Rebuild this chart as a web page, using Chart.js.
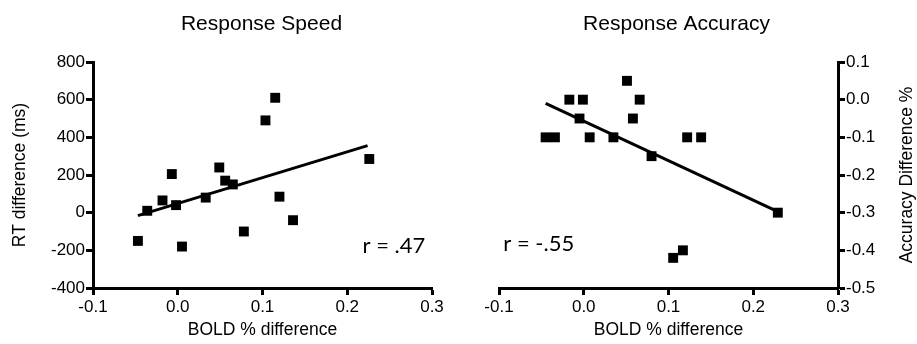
<!DOCTYPE html>
<html>
<head>
<meta charset="utf-8">
<script src="https://cdn.jsdelivr.net/npm/chart.js@4"></script>
<style>
  body { margin: 0; background: #fff; }
  .panel { position: absolute; top: 0; height: 344px; }
</style>
</head>
<body>
<div class="panel" style="left:0;width:460px"><canvas id="speedChart"></canvas></div>
<div class="panel" style="left:460px;width:457px"><canvas id="accuracyChart"></canvas></div>
<script>
// Datos
const boldSpeed = [-0.047, -0.036, -0.018, -0.007, -0.002, 0.005, 0.033, 0.049, 0.056, 0.065, 0.078, 0.1035, 0.115, 0.12, 0.136, 0.226];
const rtDiff = [-150, 10, 65, 205, 40, -180, 80, 240, 170, 150, -100, 490, 610, 85, -40, 285];
const speedFitX = [-0.047, 0.224];
const speedFitY = [-16, 356];

const boldAccuracy = [-0.045, -0.034, -0.017, -0.005, -0.001, 0.007, 0.035, 0.051, 0.058, 0.066, 0.080, 0.1055, 0.117, 0.122, 0.1385, 0.229];
const accDiff = [-0.1, -0.1, 0.0, -0.05, 0.0, -0.1, -0.1, 0.05, -0.05, 0.0, -0.15, -0.42, -0.40, -0.1, -0.1, -0.30];
const accFitX = [-0.045, 0.229];
const accFitY = [-0.01, -0.297];

const xTicks = [-0.1, 0.0, 0.1, 0.2, 0.3];
const rtTicks = [-400, -200, 0, 200, 400, 600, 800];
const accTicks = [-0.5, -0.4, -0.3, -0.2, -0.1, 0.0, 0.1];

Chart.defaults.font.family = '"Liberation Sans", Arial, sans-serif';
Chart.defaults.color = '#000';

const toPoints = (xs, ys) => xs.map((x, i) => ({ x: x, y: ys[i] }));

// Titulo, valor r y titulo del eje derecho
const textos = {
    id: 'textos',
    afterDraw(chart, args, opts) {
        const { ctx, chartArea, scales } = chart;
        ctx.save();
        ctx.fillStyle = '#000';
        ctx.font = '21px "Liberation Sans", Arial, sans-serif';
        ctx.textAlign = 'center';
        ctx.textBaseline = 'middle';
        ctx.fillText(opts.titulo, (chartArea.left + chartArea.right) / 2 + opts.dx, 24);

        ctx.font = '22px Lato, sans-serif';
        ctx.textAlign = 'left';
        ctx.textBaseline = 'alphabetic';
        ctx.fillText(opts.r, scales.x.getPixelForValue(opts.rx), scales.y.getPixelForValue(opts.ry));

        if (opts.ejeDerecho) {
            ctx.font = '17.5px "Liberation Sans", Arial, sans-serif';
            ctx.textAlign = 'center';
            ctx.textBaseline = 'middle';
            ctx.translate(chart.width - 10, (chartArea.top + chartArea.bottom) / 2);
            ctx.rotate(-Math.PI / 2);
            ctx.fillText(opts.ejeDerecho, 0, 0);
        }
        ctx.restore();
    }
};

function ejeX() {
    return {
        type: 'linear',
        min: -0.1,
        max: 0.3,
        afterBuildTicks: s => { s.ticks = xTicks.map(v => ({ value: v })); },
        afterFit: s => { s.height = 56; },
        border: { color: '#000', width: 3 },
        grid: { drawOnChartArea: false, tickLength: 7, tickWidth: 3, tickColor: '#000' },
        ticks: { font: { size: 17 }, padding: 2, maxRotation: 0, callback: v => v.toFixed(1) },
        title: { display: true, text: 'BOLD % difference', font: { size: 17.5 }, padding: { top: 0, bottom: 3 } }
    };
}

function puntos(xs, ys) {
    return {
        data: toPoints(xs, ys),
        backgroundColor: '#000',
        borderWidth: 0,
        pointStyle: 'rect',
        pointRadius: 7
    };
}

function recta(xs, ys) {
    return {
        data: toPoints(xs, ys),
        showLine: true,
        borderColor: '#000',
        borderWidth: 3,
        pointRadius: 0
    };
}

new Chart(document.getElementById('speedChart'), {
    type: 'scatter',
    data: { datasets: [puntos(boldSpeed, rtDiff), recta(speedFitX, speedFitY)] },
    options: {
        responsive: true,
        maintainAspectRatio: false,
        animation: false,
        events: [],
        layout: { padding: { left: 0, right: 28, top: 62, bottom: 0 } },
        plugins: {
            legend: { display: false },
            tooltip: { enabled: false },
            textos: { titulo: 'Response Speed', dx: -1, r: 'r = .47', rx: 0.218, ry: -212 }
        },
        scales: {
            x: ejeX(),
            y: {
                type: 'linear',
                min: -400,
                max: 800,
                afterBuildTicks: s => { s.ticks = rtTicks.map(v => ({ value: v })); },
                afterFit: s => { s.width = 93; },
                border: { color: '#000', width: 3 },
                grid: { drawOnChartArea: false, tickLength: 7, tickWidth: 3, tickColor: '#000' },
                ticks: { font: { size: 17 }, padding: 1, callback: v => String(v) },
                title: { display: true, text: 'RT difference (ms)', font: { size: 17.5 }, padding: { top: 10, bottom: 0 } }
            }
        }
    },
    plugins: [textos]
});

new Chart(document.getElementById('accuracyChart'), {
    type: 'scatter',
    data: { datasets: [puntos(boldAccuracy, accDiff), recta(accFitX, accFitY)] },
    options: {
        responsive: true,
        maintainAspectRatio: false,
        animation: false,
        events: [],
        layout: { padding: { left: 39, right: 0, top: 62, bottom: 0 } },
        plugins: {
            legend: { display: false },
            tooltip: { enabled: false },
            textos: { titulo: 'Response Accuracy', dx: 8, r: 'r = -.55', rx: -0.095, ry: -0.403, ejeDerecho: 'Accuracy Difference %' }
        },
        scales: {
            x: ejeX(),
            y: {
                type: 'linear',
                position: 'right',
                min: -0.5,
                max: 0.1,
                afterBuildTicks: s => { s.ticks = accTicks.map(v => ({ value: v })); },
                afterFit: s => { s.width = 79; },
                border: { color: '#000', width: 3 },
                grid: { drawOnChartArea: false, tickLength: 7, tickWidth: 3, tickColor: '#000' },
                ticks: { font: { size: 17 }, padding: 1, callback: v => v.toFixed(1) }
            }
        }
    },
    plugins: [textos]
});
</script>
</body>
</html>
